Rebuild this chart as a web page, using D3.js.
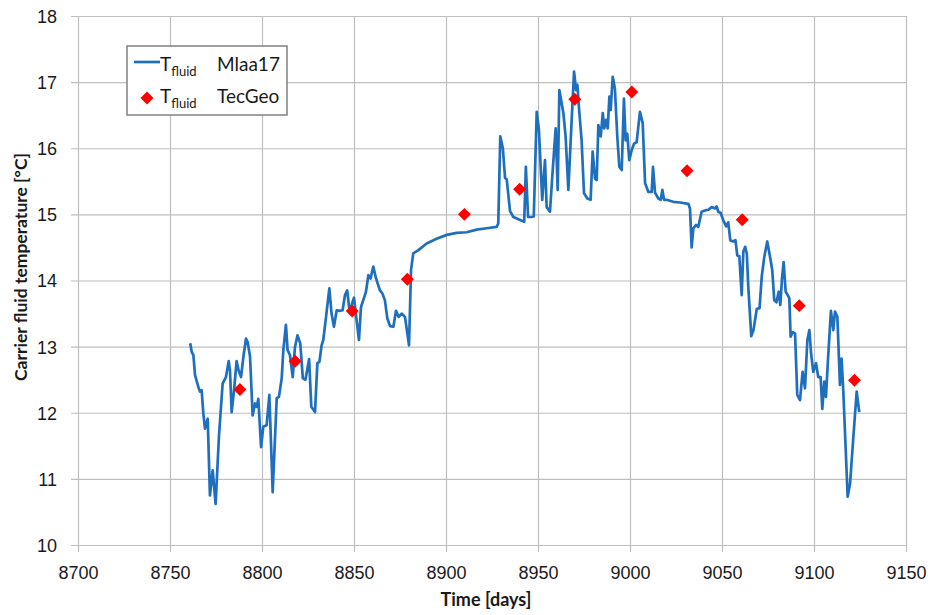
<!DOCTYPE html>
<html>
<head>
<meta charset="utf-8">
<script src="https://cdn.jsdelivr.net/npm/d3@7"></script>
<style>
  html, body { margin: 0; padding: 0; background: #fff; }
  svg { display: block; font-family: Lato, "Open Sans", sans-serif; }
</style>
</head>
<body>
<svg id="chart" width="928" height="615"></svg>
<script>
// Simulated carrier fluid temperature (Mlaa17), daily resolution
const simDays = [
  8761.0, 8761.8, 8762.7, 8763.6, 8765.4, 8766.3, 8767.2, 8768.1, 8769.0, 8770.5,
  8771.7, 8773.2, 8774.8, 8776.6, 8778.6, 8780.4, 8781.9, 8782.6, 8783.5, 8784.8,
  8786.2, 8787.3, 8788.6, 8789.9, 8791.3, 8792.2, 8793.5, 8794.9, 8796.2, 8797.1,
  8798.0, 8799.5, 8800.7, 8802.5, 8804.0, 8805.8, 8808.0, 8809.2, 8810.7, 8811.6,
  8813.0, 8813.9, 8815.2, 8816.7, 8817.9, 8819.3, 8820.8, 8822.2, 8823.6, 8825.6,
  8826.8, 8828.8, 8830.1, 8831.2, 8832.4, 8833.3, 8834.8, 8836.6, 8837.8, 8839.1,
  8840.6, 8842.0, 8843.8, 8845.1, 8846.3, 8847.5, 8848.7, 8850.0, 8851.4, 8852.7,
  8853.8, 8855.0, 8856.5, 8857.8, 8859.0, 8860.5, 8861.8, 8862.8, 8864.1, 8865.5,
  8866.8, 8868.1, 8869.6, 8871.4, 8872.8, 8874.3, 8875.9, 8877.7, 8879.9, 8881.0,
  8882.2, 8885.0, 8889.5, 8894.9, 8900.4, 8905.8, 8911.2, 8916.7, 8922.1, 8927.5,
  8928.4, 8929.5, 8930.9, 8932.1, 8933.0, 8934.8, 8936.6, 8940.0, 8942.5, 8943.4,
  8944.6, 8946.3, 8947.7, 8949.3, 8950.5, 8952.3, 8953.8, 8954.7, 8956.5, 8958.0,
  8959.6, 8960.7, 8961.6, 8963.8, 8965.0, 8966.5, 8968.3, 8969.6, 8970.7, 8971.4,
  8972.3, 8973.7, 8975.0, 8976.8, 8978.6, 8979.7, 8981.0, 8981.9, 8982.8, 8984.1,
  8985.2, 8986.0, 8987.0, 8987.9, 8988.8, 8989.5, 8990.6, 8991.8, 8993.1, 8994.2,
  8995.5, 8996.7, 8997.6, 8998.5, 8999.6, 9000.9, 9002.2, 9003.6, 9005.4, 9006.9,
  9008.2, 9010.0, 9011.8, 9012.5, 9013.6, 9015.4, 9016.7, 9017.6, 9018.5, 9019.9,
  9023.5, 9027.2, 9031.7, 9032.6, 9033.5, 9034.4, 9035.9, 9037.1, 9038.9, 9040.8,
  9042.6, 9044.4, 9046.2, 9047.1, 9048.0, 9049.3, 9050.7, 9052.3, 9053.4, 9054.5,
  9056.1, 9057.3, 9058.3, 9059.4, 9060.7, 9061.6, 9062.6, 9063.5, 9064.3, 9065.9,
  9067.1, 9068.9, 9070.4, 9071.6, 9073.0, 9074.6, 9076.1, 9077.3, 9078.4, 9079.6,
  9080.8, 9081.7, 9082.6, 9083.5, 9084.6, 9085.7, 9086.6, 9087.3, 9088.4, 9089.7,
  9090.9, 9092.4, 9093.8, 9095.1, 9096.4, 9097.5, 9098.4, 9099.6, 9101.1, 9102.3,
  9103.6, 9104.5, 9105.6, 9106.5, 9107.8, 9109.2, 9110.5, 9111.4, 9112.7, 9114.1,
  9115.0, 9115.9, 9118.3, 9119.6, 9121.4, 9123.2, 9124.6
];
const simTemps = [
  13.05, 12.92, 12.87, 12.57, 12.39, 12.32, 12.34, 11.99, 11.76, 11.91,
  10.75, 11.13, 10.62, 11.64, 12.44, 12.54, 12.78, 12.64, 12.01, 12.34,
  12.78, 12.64, 12.54, 12.85, 13.12, 13.07, 12.85, 11.96, 12.14, 12.09,
  12.21, 11.48, 11.79, 11.81, 12.27, 10.80, 12.22, 12.24, 12.52, 12.95,
  13.33, 12.95, 12.87, 12.54, 12.99, 13.17, 13.05, 12.52, 12.50, 12.81,
  12.09, 12.01, 12.75, 12.77, 13.02, 13.10, 13.45, 13.88, 13.50, 13.30,
  13.55, 13.54, 13.55, 13.78, 13.85, 13.55, 13.63, 13.74, 13.40, 13.10,
  13.60, 13.70, 13.83, 14.08, 14.03, 14.21, 14.05, 13.96, 13.85, 13.80,
  13.70, 13.43, 13.31, 13.30, 13.54, 13.45, 13.50, 13.45, 13.02, 14.16,
  14.41, 14.46, 14.56, 14.63, 14.69, 14.72, 14.73, 14.77, 14.79, 14.81,
  14.86, 16.18, 16.00, 15.55, 15.53, 15.05, 14.96, 14.92, 14.89, 15.72,
  14.96, 14.96, 14.97, 16.55, 16.28, 15.22, 15.82, 15.11, 15.04, 15.67,
  16.30, 15.37, 16.88, 16.53, 16.18, 15.37, 16.43, 17.16, 16.88, 16.96,
  16.60, 16.12, 15.32, 15.24, 15.22, 15.95, 15.54, 15.52, 16.35, 16.18,
  16.53, 16.30, 16.43, 16.30, 16.78, 16.58, 17.08, 16.90, 16.17, 15.72,
  15.67, 16.75, 16.12, 16.22, 15.82, 15.97, 16.07, 16.09, 16.55, 16.38,
  15.47, 15.34, 15.34, 15.72, 15.33, 15.24, 15.22, 15.37, 15.22, 15.22,
  15.19, 15.18, 15.16, 15.09, 14.50, 14.79, 14.84, 14.81, 15.04, 15.06,
  15.07, 15.11, 15.09, 15.12, 15.04, 15.02, 14.91, 14.82, 14.88, 14.61,
  14.59, 14.61, 14.38, 14.37, 13.78, 14.44, 14.51, 14.40, 13.90, 13.16,
  13.25, 13.57, 13.58, 14.06, 14.36, 14.59, 14.36, 14.16, 13.70, 13.67,
  13.83, 13.63, 14.03, 14.28, 13.83, 13.78, 13.73, 13.15, 13.22, 13.20,
  12.27, 12.19, 12.62, 12.37, 13.10, 13.25, 12.90, 12.62, 12.75, 12.54,
  12.54, 12.06, 12.47, 12.24, 12.90, 13.54, 13.25, 13.53, 13.45, 12.42,
  12.82, 12.34, 10.73, 10.93, 11.64, 12.32, 12.01
];

// Reference values (TecGeo), roughly monthly
const refDays  = [8788, 8818, 8849, 8879, 8910, 8940, 8970, 9001, 9031, 9061, 9092, 9122];
const refTemps = [12.35, 12.78, 13.54, 14.02, 15.00, 15.38, 16.74, 16.85, 15.66, 14.92, 13.62, 12.49];

// Axis ticks
const xTicks = [8700, 8750, 8800, 8850, 8900, 8950, 9000, 9050, 9100, 9150];
const yTicks = [10, 11, 12, 13, 14, 15, 16, 17, 18];

const svg = d3.select("#chart");
const plot = { left: 78, right: 906, top: 16, bottom: 545 };

const x = d3.scaleLinear().domain([8700, 9150]).range([plot.left, plot.right]);
const y = d3.scaleLinear().domain([10, 18]).range([plot.bottom, plot.top]);

const gridColor = "#bfbfbf";
const textColor = "#1a1a1a";

// Horizontal grid lines with left tick stubs
const yAxis = d3.axisLeft(y).tickValues(yTicks)
  .tickSize(-(plot.right - plot.left)).tickSizeOuter(0);
const gy = svg.append("g").attr("transform", `translate(${plot.left},0)`).call(yAxis);
gy.select(".domain").remove();
gy.selectAll(".tick line").attr("stroke", gridColor).attr("stroke-width", 1.2).attr("x1", -7);
gy.selectAll(".tick text").attr("fill", textColor).style("font-size", "18px")
  .attr("x", -21).attr("dy", "0.36em");

// Vertical grid lines extending below the plot
const xAxis = d3.axisBottom(x).tickValues(xTicks).tickFormat(d3.format("d"))
  .tickSize(-(plot.bottom - plot.top)).tickSizeOuter(0);
const gx = svg.append("g").attr("transform", `translate(0,${plot.bottom})`).call(xAxis);
gx.select(".domain").remove();
gx.selectAll(".tick line").attr("stroke", gridColor).attr("stroke-width", 1.2).attr("y1", 7);
gx.selectAll(".tick text").attr("fill", textColor).style("font-size", "18px")
  .attr("y", 21).attr("dy", "0.71em");

// Axis titles
svg.append("text")
  .attr("x", 486).attr("y", 606)
  .attr("text-anchor", "middle")
  .attr("font-weight", "bold").attr("font-size", 18).attr("fill", textColor)
  .text("Time [days]");

svg.append("text")
  .attr("transform", "translate(27,267) rotate(-90)")
  .attr("text-anchor", "middle")
  .attr("font-weight", "bold").attr("font-size", 17.5).attr("fill", textColor)
  .text("Carrier fluid temperature [°C]");

// Simulated series line
const simData = simDays.map((d, i) => ({ t: d, v: simTemps[i] }));
const line = d3.line().x(d => x(d.t)).y(d => y(d.v));
svg.append("path")
  .datum(simData)
  .attr("fill", "none")
  .attr("stroke", "#1f6fbf")
  .attr("stroke-width", 2.7)
  .attr("stroke-linejoin", "round")
  .attr("d", line);

// Reference series diamonds
const diamond = d3.symbol().type(d3.symbolSquare).size(84);
const refData = refDays.map((d, i) => ({ t: d, v: refTemps[i] }));
svg.append("g").selectAll("path")
  .data(refData)
  .join("path")
  .attr("d", diamond)
  .attr("fill", "#ff0000")
  .attr("transform", d => `translate(${x(d.t)},${y(d.v)}) rotate(45)`);

// Legend
const lg = svg.append("g");
lg.append("rect")
  .attr("x", 127).attr("y", 46).attr("width", 160).attr("height", 69)
  .attr("fill", "#fff").attr("stroke", "#808080").attr("stroke-width", 1.5);

lg.append("line")
  .attr("x1", 134).attr("x2", 160).attr("y1", 62).attr("y2", 62)
  .attr("stroke", "#1f6fbf").attr("stroke-width", 2.7);
lg.append("path")
  .attr("d", diamond)
  .attr("fill", "#ff0000")
  .attr("transform", "translate(147,98) rotate(45)");

const legendRows = [
  { label: "Mlaa17", y: 71 },
  { label: "TecGeo", y: 103 }
];
legendRows.forEach(r => {
  const t = lg.append("text").attr("y", r.y).attr("fill", textColor).attr("font-size", 19);
  t.append("tspan").attr("x", 160).text("T");
  t.append("tspan").attr("dy", 5).attr("font-size", 13).text("fluid");
  t.append("tspan").attr("x", 217).attr("dy", -5).text(r.label);
});
</script>
</body>
</html>
